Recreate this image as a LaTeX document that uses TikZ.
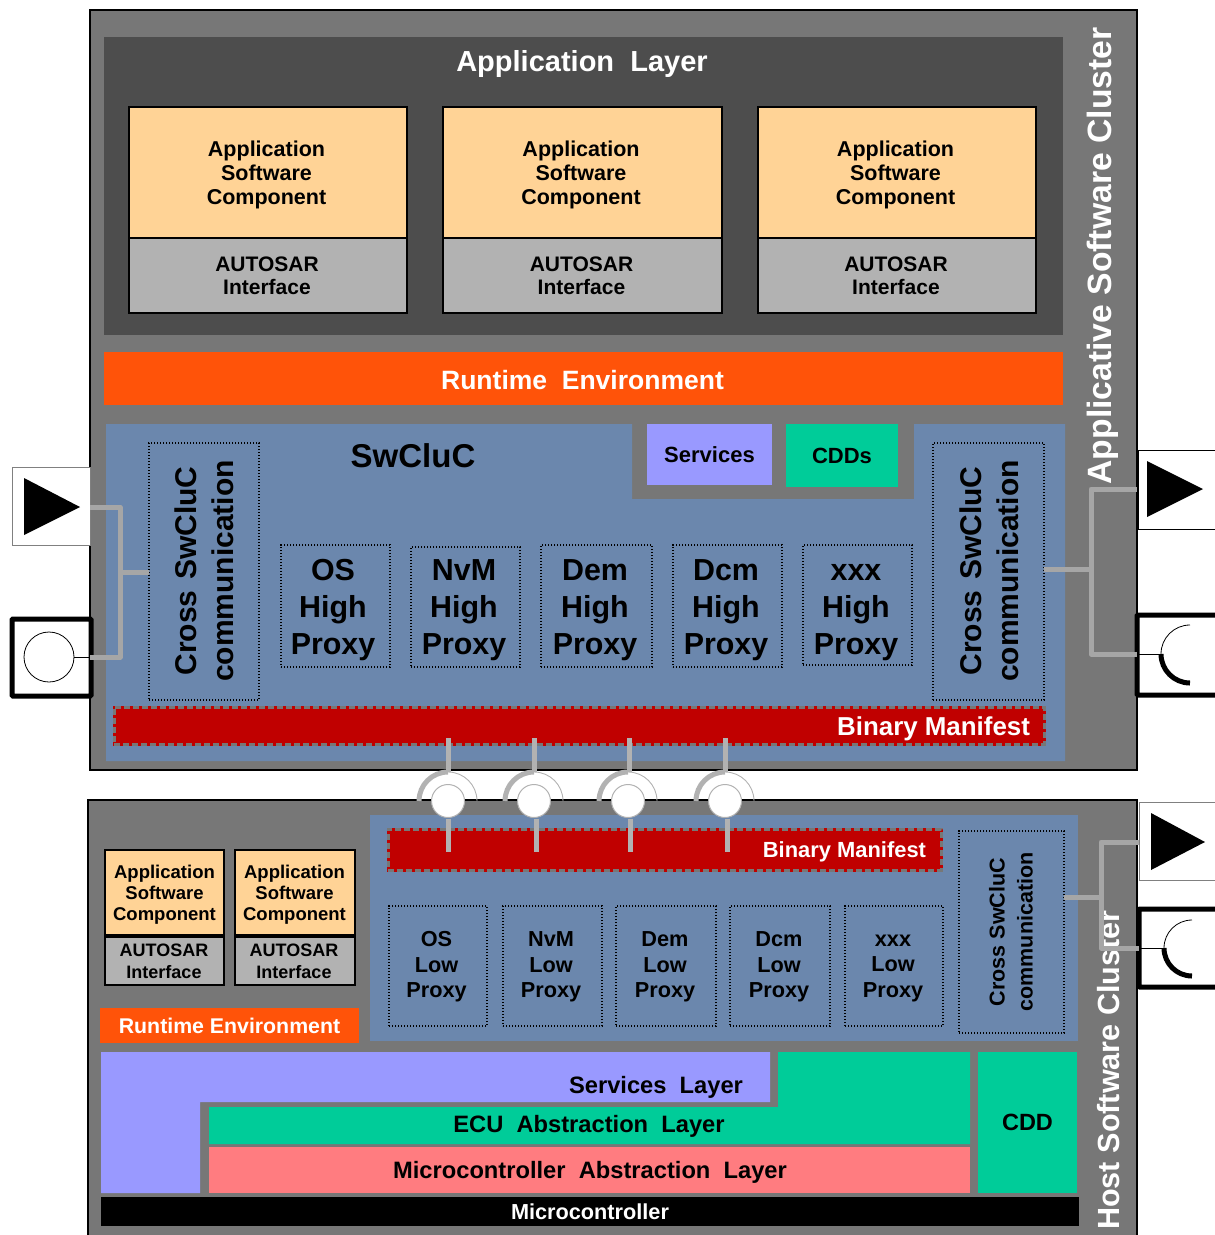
\documentclass[tikz,border=0pt]{standalone}
\usepackage{fontspec}
\setmainfont{Liberation Sans}
\definecolor{clustergray}{HTML}{777777}
\definecolor{layerdark}{HTML}{4D4D4D}
\definecolor{swcorange}{HTML}{FFD396}
\definecolor{ifgray}{HTML}{B2B2B2}
\definecolor{rteorange}{HTML}{FF5309}
\definecolor{clucblue}{HTML}{6B87AD}
\definecolor{servblue}{HTML}{9999FF}
\definecolor{cddgreen}{HTML}{00CC99}
\definecolor{manired}{HTML}{C00000}
\definecolor{mcalred}{HTML}{FF7C80}
\definecolor{wiregray}{HTML}{A6A6A6}
\newcommand{\fs}[2]{\fontsize{#1}{#2}\selectfont\bfseries}
\newcommand{\bx}[7]{\pgfmathsetmacro\bw{#5-#3}\pgfmathsetmacro\bh{#6-#4}\pgfmathsetmacro\cx{(#3+#5)/2}\pgfmathsetmacro\cy{(#4+#6)/2}\node[#2,minimum width=\bw pt,minimum height=\bh pt] (#1) at (\cx,\cy) {#7};}
\newcommand{\capht}{\rule{0pt}{.72em}}
\newcommand{\swctext}{Application\\Software\\Component}
\newcommand{\iftext}{AUTOSAR\\Interface}
\tikzset{
 base/.style={inner sep=0pt,outer sep=0pt,align=center,shape=rectangle},
 cluster/.style={base,fill=clustergray,draw=black,line width=1.5pt},
 flat/.style={base,fill=#1},
 swc/.style={base,fill=swcorange,draw=black,line width=#1},
 iface/.style={base,fill=ifgray,draw=black,line width=#1},
 dotbox/.style={base,draw=black,line width=1.4pt,dash pattern=on 1.4pt off 1.6pt},
 manifest/.style={base,fill=manired,draw=manired,line width=3pt,postaction={draw=clustergray,line width=3pt,dash pattern=on 6pt off 3pt}},
 wire/.style={draw=wiregray,line width=5pt,line join=round},
 portbox/.style={base,fill=white,draw=#1,line width=1pt},
 strongport/.style={base,fill=white,draw=black,line width=5pt,rounded corners=1pt},
 socket/.style={base,shape=circle,fill=white,draw=ifgray,line width=1pt,minimum size=33pt},
 lbl/.style={inner sep=0pt,outer sep=0pt,align=center},
 whitelbl/.style={lbl,text=white},
 swctxt/.style={lbl,font=\fs{21.5}{24}},
 iftxt/.style={lbl,font=\fs{21}{23.5}},
 swcsmall/.style={lbl,font=\fs{18.5}{21}},
 ifsmall/.style={lbl,font=\fs{18}{22}},
 hightxt/.style={lbl,font=\fs{30.4}{37}},
 lowtxt/.style={lbl,font=\fs{21.7}{25.5}},
 layertxt/.style={lbl,font=\fs{23.7}{26}},
 crosstxt/.style={lbl,font=\fs{30}{37.5},rotate=90},
}
\begin{document}
\begin{tikzpicture}[x=1pt,y=-1pt]
\useasboundingbox (0,0) rectangle (1215,1235);
\clip (0,0) rectangle (1215,1235);
% upper cluster
\bx{upper}{cluster}{90}{10}{1137}{770}{}
\bx{applayer}{flat=layerdark}{104}{37}{1063}{335}{}
\node[whitelbl,font=\fs{29}{34}] (applbl) at (582,64) {Application\ \ Layer};
\bx{swca}{swc=2pt}{129}{107}{407}{238}{}
\bx{ifa}{iface=2pt}{129}{238}{407}{313}{}
\bx{swcb}{swc=2pt}{443}{107}{722}{238}{}
\bx{ifb}{iface=2pt}{443}{238}{722}{313}{}
\bx{swcc}{swc=2pt}{758}{107}{1036}{238}{}
\bx{ifc}{iface=2pt}{758}{238}{1036}{313}{}
\node[swctxt] (swcat) at (266.5,174.5) {\swctext};
\node[swctxt] (swcbt) at (581,174.5) {\swctext};
\node[swctxt] (swcct) at (895.5,174.5) {\swctext};
\node[iftxt] (ifat) at (267,276) {\iftext};
\node[iftxt] (ifbt) at (581.5,276) {\iftext};
\node[iftxt] (ifct) at (896,276) {\iftext};
\bx{rtea}{flat=rteorange}{104}{352}{1063}{405}{}
\node[whitelbl,font=\fs{26.5}{30}] (rtealbl) at (582.5,380) {Runtime\ \ Environment};
\fill[clucblue] (106,424) -- (632,424) -- (632,499) -- (914,499) -- (914,424) -- (1065,424) -- (1065,761) -- (106,761) -- cycle;
\bx{services}{flat=servblue,font=\fs{22}{25}}{647}{424}{772}{485}{Services}
\bx{cdds}{flat=cddgreen,font=\fs{22}{25}}{786}{424}{898}{487}{CDDs}
\node[lbl,font=\fs{33}{36}] (swcluc) at (413,456) {SwCluC};
\bx{crossl}{dotbox}{149}{443}{259}{700}{}
\bx{crossr}{dotbox}{933}{443}{1044}{700}{}
\node[crosstxt] (crossltxt) at (204.25,571) {Cross\hspace{.36em}SwCluC\\communication};
\node[crosstxt] (crossrtxt) at (989.25,571) {Cross\hspace{.36em}SwCluC\\communication};
\bx{phos}{dotbox}{281}{545}{390}{667}{}
\bx{phnvm}{dotbox}{411}{547}{520}{667}{}
\bx{phdem}{dotbox}{541}{545}{652}{667}{}
\bx{phdcm}{dotbox}{673}{545}{782}{667}{}
\bx{phxxx}{dotbox}{803}{545}{912}{665}{}
\node[hightxt] (phost) at (333,610) {OS\\High\\Proxy};
\node[hightxt] (phnvmt) at (464,610) {NvM\\High\\Proxy};
\node[hightxt] (phdemt) at (595,610) {Dem\\High\\Proxy};
\node[hightxt] (phdcmt) at (726,610) {Dcm\\High\\Proxy};
\node[hightxt] (phxxxt) at (856,610) {\capht xxx\\High\\Proxy};
\bx{bma}{manifest}{114}{707}{1044}{744}{}
\node[whitelbl,font=\fs{25.9}{28},anchor=east] (bmalbl) at (1030,728.5) {Binary Manifest};
% lower cluster
\bx{lower}{cluster}{88}{800}{1137}{1260}{}
\bx{swcd}{swc=1.5pt}{105}{850}{224}{935}{}
\bx{ifd}{iface=1.5pt}{105}{937}{224}{985}{}
\bx{swce}{swc=1.5pt}{235}{850}{355}{935}{}
\bx{ife}{iface=1.5pt}{235}{937}{355}{985}{}
\node[swcsmall] (swcdt) at (164.5,895) {\swctext};
\node[swcsmall] (swcet) at (294.5,895) {\swctext};
\node[ifsmall] (ifdt) at (164,961.5) {\iftext};
\node[ifsmall] (ifet) at (294,961.5) {\iftext};
\bx{rteb}{flat=rteorange,text=white,font=\fs{21.3}{24}}{100}{1008}{359}{1043}{Runtime Environment}
\bx{blue}{flat=clucblue}{370}{815}{1078}{1041}{}
\bx{bmb}{manifest}{388}{829}{941}{870}{}
\node[whitelbl,font=\fs{21.9}{24},anchor=east] (bmblbl) at (926,852) {Binary Manifest};
\bx{plos}{dotbox}{389}{906}{487}{1026}{}
\bx{plnvm}{dotbox}{503}{906}{602}{1026}{}
\bx{pldem}{dotbox}{616}{906}{716}{1026}{}
\bx{pldcm}{dotbox}{730}{906}{830}{1026}{}
\bx{plxxx}{dotbox}{845}{906}{943}{1026}{}
\node[lowtxt] (plost) at (436.5,967) {OS\\Low\\Proxy};
\node[lowtxt] (plnvmt) at (551,967) {NvM\\Low\\Proxy};
\node[lowtxt] (pldemt) at (665,967) {Dem\\Low\\Proxy};
\node[lowtxt] (pldcmt) at (779,967) {Dcm\\Low\\Proxy};
\node[lowtxt] (plxxxt) at (893,966) {\capht xxx\\Low\\Proxy};
\bx{crossb}{dotbox}{959}{831}{1064}{1033}{}
\node[lbl,font=\fs{21.5}{28},rotate=90] (crossbtxt) at (1011,932) {Cross SwCluC\\communication};
\fill[servblue] (101,1052) -- (770,1052) -- (770,1102) -- (200,1102) -- (200,1193) -- (101,1193) -- cycle;
\node[layertxt,anchor=east] (servlbl) at (743,1087) {Services\ \ Layer};
\fill[cddgreen] (778,1052) -- (970,1052) -- (970,1144) -- (209,1144) -- (209,1107) -- (778,1107) -- cycle;
\node[layertxt] (eculbl) at (589,1126) {ECU\ \ Abstraction\ \ Layer};
\bx{mcal}{flat=mcalred}{209}{1147}{970}{1193}{}
\node[layertxt] (mcallbl) at (590,1172) {Microcontroller\ \ Abstraction\ \ Layer};
\bx{cdd}{flat=cddgreen,font=\fs{23.5}{26}}{978}{1052}{1077}{1193}{CDD}
\bx{micro}{flat=black,text=white,font=\fs{21.7}{24}}{101}{1197}{1079}{1226}{Microcontroller}
% ports, left
\bx{plt}{portbox=gray}{12}{467}{90}{545}{}
\fill[black] (24,478) -- (80,507) -- (24,535) -- cycle;
\bx{plb}{strongport}{12}{619}{91}{696}{}
\node[base,shape=circle,draw=black,line width=0.8pt,fill=white,minimum size=50pt] (plbc) at (49,657) {};
\draw[line width=0.8pt] (plbc.east) -- (plb.east |- plbc.east);
% ports, right upper
\bx{prt}{portbox=black}{1138}{450}{1240}{529}{}
\fill[black] (1147,461) -- (1203,489) -- (1147,517) -- cycle;
\bx{prb}{strongport}{1137}{615}{1240}{695}{}
\coordinate (prbarc) at (1161,654);
\draw[line width=0.8pt] (prb.west |- prbarc) -- (prbarc);
\draw[line width=0.8pt] (prbarc) arc[start angle=180,end angle=90,radius=29pt];
\draw[line width=5pt] (prbarc) arc[start angle=180,end angle=270,radius=29pt];
% ports, right lower
\bx{lrt}{portbox=gray}{1139}{802}{1240}{880}{}
\fill[black] (1151,813) -- (1205,842) -- (1151,870) -- cycle;
\bx{lrb}{strongport}{1139}{909}{1240}{987}{}
\coordinate (lrbarc) at (1164,948);
\draw[line width=0.8pt] (lrb.west |- lrbarc) -- (lrbarc);
\draw[line width=0.8pt] (lrbarc) arc[start angle=180,end angle=90,radius=28pt];
\draw[line width=5pt] (lrbarc) arc[start angle=180,end angle=270,radius=28pt];
% wires
\coordinate (lj) at (120,572);
\coordinate (lp1) at (90,507);
\coordinate (lp2) at (90,657);
\draw[wire] (lp1) -- (lp1 -| lj) -- (lp2 -| lj) -- (lp2);
\draw[wire] (lj) -- (crossl.west |- lj);
\coordinate (rj) at (1091,569);
\coordinate (rp1) at (1137,489);
\coordinate (rp2) at (1137,654);
\draw[wire] (rp1) -- (rp1 -| rj) -- (rp2 -| rj) -- (rp2);
\draw[wire] (rj) -- (crossr.east |- rj);
% cluster titles
\node[whitelbl,font=\fs{33.7}{36},rotate=90] (asc) at (1103,256) {Applicative Software Cluster};
\node[whitelbl,font=\fs{30.6}{36},rotate=90] (hsc) at (1109,1070) {Host Software Cluster};
\coordinate (hj) at (1101,897);
\coordinate (hp1) at (1139,842);
\coordinate (hp2) at (1139,948);
\draw[wire] (hp1) -- (hp1 -| hj) -- (hp2 -| hj) -- (hp2);
\draw[wire] (hj) -- (crossb.east |- hj);
% sockets
\foreach \n/\sx/\tx/\bxx in {a/448/448/448,b/534/534/536,c/628/629/630,d/725/725/727}{
  \node[socket] (sock\n) at (\sx,801) {};
  \coordinate (st\n) at (\tx,738);
  \coordinate (sa\n) at (\tx,772);
  \coordinate (sb\n) at (\bxx,818.5);
  \coordinate (se\n) at (\bxx,852);
  \draw[draw=ifgray,line width=5pt] (st\n) -- (sa\n);
  \draw[draw=ifgray,line width=5pt] (sb\n) -- (se\n);
  \draw[draw=ifgray,line width=5pt] ([xshift=-29pt]sock\n.center) arc[start angle=180,end angle=90,radius=29pt];
  \draw[draw=ifgray,line width=0.9pt] ([xshift=29pt]sock\n.center) arc[start angle=0,end angle=90,radius=29pt];
}
\end{tikzpicture}
\end{document}
